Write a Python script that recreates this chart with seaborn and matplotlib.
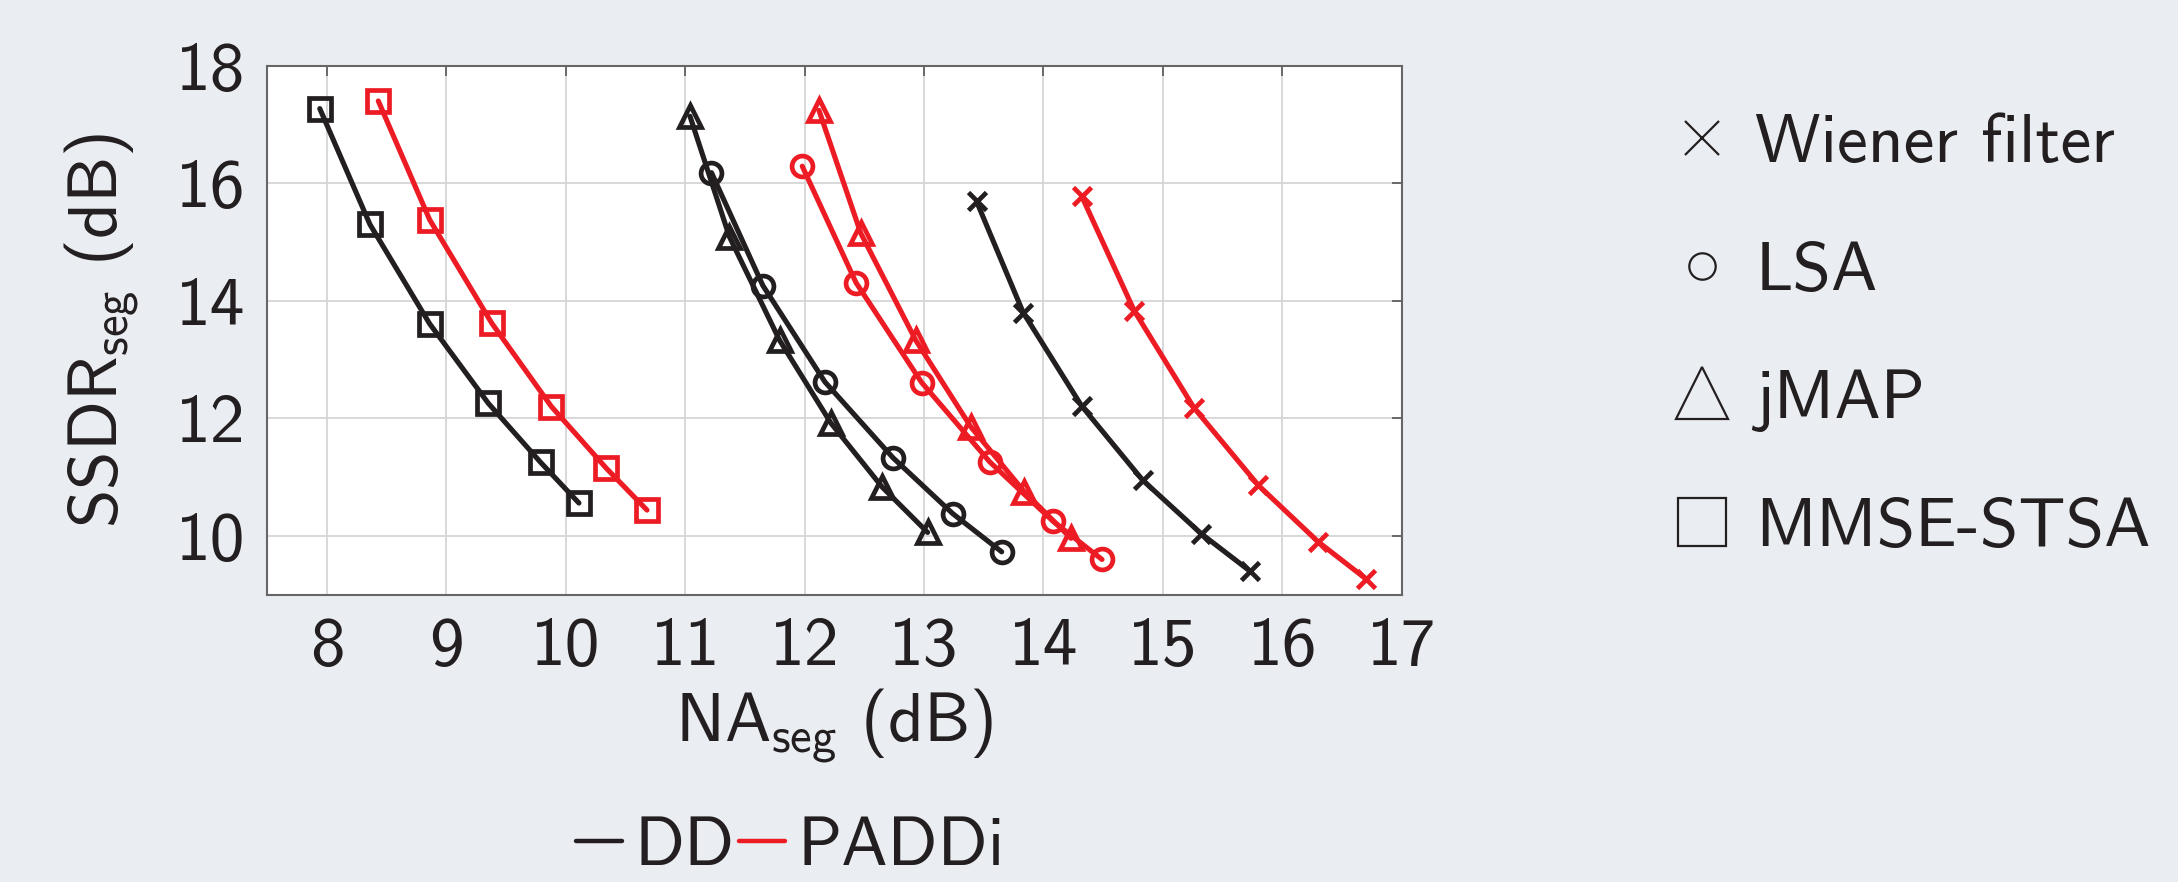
import matplotlib
matplotlib.use("Agg")
import numpy as np
import pandas as pd
import matplotlib.pyplot as plt
import seaborn as sns
from matplotlib.lines import Line2D

# ---------------- data ----------------
estimators = ["Wiener filter", "LSA", "jMAP", "MMSE-STSA"]
methods = ["DD", "PADDi"]

wiener_dd_x = [13.44, 13.83, 14.32, 14.83, 15.32, 15.73]
wiener_dd_y = [15.69, 13.80, 12.21, 10.95, 10.04, 9.40]
wiener_pd_x = [14.32, 14.76, 15.26, 15.80, 16.30, 16.70]
wiener_pd_y = [15.78, 13.83, 12.18, 10.86, 9.90, 9.27]

lsa_dd_x = [11.22, 11.65, 12.17, 12.74, 13.24, 13.65]
lsa_dd_y = [16.18, 14.26, 12.62, 11.33, 10.38, 9.73]
lsa_pd_x = [11.98, 12.43, 12.98, 13.55, 14.08, 14.49]
lsa_pd_y = [16.29, 14.31, 12.61, 11.26, 10.25, 9.60]

jmap_dd_x = [11.04, 11.37, 11.79, 12.22, 12.65, 13.03]
jmap_dd_y = [17.14, 15.09, 13.33, 11.92, 10.83, 10.06]
jmap_pd_x = [12.12, 12.47, 12.93, 13.39, 13.84, 14.23]
jmap_pd_y = [17.24, 15.15, 13.33, 11.86, 10.75, 9.96]

mmse_dd_x = [7.94, 8.36, 8.86, 9.35, 9.79, 10.11]
mmse_dd_y = [17.27, 15.30, 13.61, 12.26, 11.25, 10.56]
mmse_pd_x = [8.43, 8.86, 9.38, 9.88, 10.34, 10.68]
mmse_pd_y = [17.40, 15.38, 13.62, 12.20, 11.15, 10.44]

x_ticks = [8, 9, 10, 11, 12, 13, 14, 15, 16, 17]
y_ticks = [10, 12, 14, 16, 18]

# ---------------- styling ----------------
BLACK = "#231f20"
RED = "#ed1c24"
BG = "#eaedf2"
FS = 50

sns.set_theme(style="whitegrid")
plt.rcParams["font.family"] = ["cmss10", "DejaVu Sans"]
plt.rcParams["mathtext.fontset"] = "custom"
plt.rcParams["mathtext.rm"] = "cmss10"
plt.rcParams["mathtext.sf"] = "cmss10"
plt.rcParams["axes.unicode_minus"] = False
plt.rcParams["axes.formatter.use_mathtext"] = False

rows = []
series = {
    ("Wiener filter", "DD"): (wiener_dd_x, wiener_dd_y),
    ("Wiener filter", "PADDi"): (wiener_pd_x, wiener_pd_y),
    ("LSA", "DD"): (lsa_dd_x, lsa_dd_y),
    ("LSA", "PADDi"): (lsa_pd_x, lsa_pd_y),
    ("jMAP", "DD"): (jmap_dd_x, jmap_dd_y),
    ("jMAP", "PADDi"): (jmap_pd_x, jmap_pd_y),
    ("MMSE-STSA", "DD"): (mmse_dd_x, mmse_dd_y),
    ("MMSE-STSA", "PADDi"): (mmse_pd_x, mmse_pd_y),
}
for (est, meth), (xs, ys) in series.items():
    for xv, yv in zip(xs, ys):
        rows.append({"NA": xv, "SSDR": yv, "method": meth, "estimator": est})
df = pd.DataFrame(rows)

fig = plt.figure(figsize=(21.78, 8.82), dpi=100, facecolor=BG)
ax = fig.add_axes([0.1227, 0.3257, 0.6436 - 0.1227, 0.9255 - 0.3257])
ax.set_facecolor("white")

marker_map = {"Wiener filter": "x", "LSA": "o", "jMAP": "^", "MMSE-STSA": "s"}
msize = {"x": 13.5, "o": 15, "^": 16.5, "s": 16}
for est in estimators:
    mk = marker_map[est]
    sns.lineplot(
        data=df[df["estimator"] == est], x="NA", y="SSDR", hue="method",
        hue_order=methods, palette={"DD": BLACK, "PADDi": RED},
        marker=mk, ms=msize[mk], estimator=None, sort=False,
        lw=3.7, mew=3.4, legend=False, ax=ax,
    )
for ln in ax.lines:
    c = ln.get_color()
    ln.set_markeredgecolor(c)
    ln.set_markerfacecolor("none")

ax.set_xlim(7.5, 17)
ax.set_ylim(9, 18)
ax.set_xticks(x_ticks)
ax.set_yticks(y_ticks)
ax.set_xticklabels([str(t) for t in x_ticks])
ax.set_yticklabels([str(t) for t in y_ticks])
ax.grid(True, color="#d6d6d6", lw=1.3)
ax.tick_params(axis="both", direction="in", length=7, width=1.2, color="#555555",
               labelsize=FS, labelcolor=BLACK, top=True, right=True, pad=16)
for sp in ax.spines.values():
    sp.set_color("#666666")
    sp.set_linewidth(1.5)

ax.set_xlabel(r"NA$_{\mathrm{seg}}$ (dB)", fontsize=FS, color=BLACK, labelpad=6)
ax.set_ylabel(r"SSDR$_{\mathrm{seg}}$ (dB)", fontsize=FS, color=BLACK, labelpad=24)

# estimator legend (right)
est_handles = [
    Line2D([], [], ls="none", marker="x", ms=25, mew=1.6, color=BLACK),
    Line2D([], [], ls="none", marker="o", ms=19, mew=1.6, color=BLACK, mfc="none"),
    Line2D([], [], ls="none", marker="^", ms=38, mew=1.6, color=BLACK, mfc="none"),
    Line2D([], [], ls="none", marker="s", ms=34, mew=1.6, color=BLACK, mfc="none"),
]
leg1 = fig.legend(est_handles, estimators, loc="upper left",
                  bbox_to_anchor=(0.7645, 0.871), frameon=False, fontsize=FS,
                  handlelength=1.07, handletextpad=0.23, labelspacing=0.95,
                  borderpad=0, borderaxespad=0, labelcolor=BLACK)

# method legend (bottom)
meth_handles = [Line2D([], [], color=BLACK, lw=3.2), Line2D([], [], color=RED, lw=3.2)]
fig.legend(meth_handles, methods, loc="lower left", ncol=2,
           bbox_to_anchor=(0.2645, 0.004), frameon=False, fontsize=FS,
           handlelength=0.66, handletextpad=0.18, columnspacing=0.06,
           borderpad=0, borderaxespad=0, labelcolor=BLACK)

fig.savefig("out.png", dpi=100, facecolor=BG)
